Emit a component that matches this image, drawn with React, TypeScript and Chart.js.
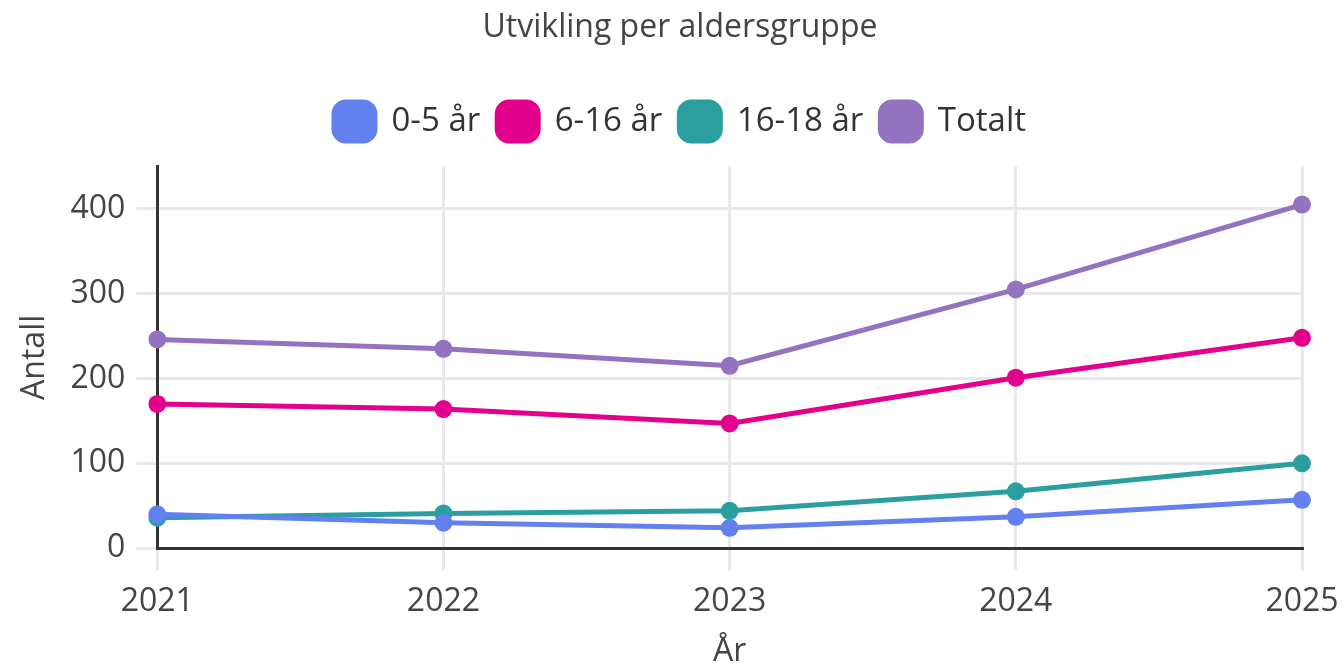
import React, { useEffect, useRef } from "react";
import { Chart, registerables } from "chart.js";

Chart.register(...registerables);

const years = ["2021", "2022", "2023", "2024", "2025"];
const age0to5 = [40, 30, 24, 37, 57];
const age6to16 = [170, 164, 147, 201, 248];
const age16to18 = [36, 41, 44, 67, 100];
const total = [246, 235, 215, 305, 405];

const seriesNames = ["0-5 år", "6-16 år", "16-18 år", "Totalt"];
const seriesColors = ["#6380EF", "#E3008C", "#2B9E9F", "#9373C0"];

const FONT = "'Open Sans', 'Noto Sans', sans-serif";
const TEXT = "#444444";

const legendSpacing = {
  id: "legendSpacing",
  beforeInit(chart: any) {
    const legend = chart.legend;
    if (!legend) return;
    const origFit = legend.fit;
    legend.fit = function () {
      origFit.call(this);
      this.height += 15.5;
    };
  },
};

export default function App() {
  const ref = useRef<HTMLCanvasElement | null>(null);

  useEffect(() => {
    document.body.style.margin = "0";
    const ctx = ref.current;
    if (!ctx) return;
    const values = [age0to5, age6to16, age16to18, total];
    const chart = new Chart(ctx, {
      type: "line",
      data: {
        labels: years,
        datasets: values.map((v, i) => ({
          label: seriesNames[i],
          data: v,
          borderColor: seriesColors[i],
          backgroundColor: seriesColors[i],
          pointBackgroundColor: seriesColors[i],
          pointBorderColor: seriesColors[i],
          borderWidth: 5,
          pointRadius: 9,
          pointBorderWidth: 0,
          tension: 0,
        })),
      },
      plugins: [legendSpacing],
      options: {
        animation: false,
        responsive: false,
        maintainAspectRatio: false,
        layout: { padding: { left: 16, right: 0, top: 4, bottom: -7 } },
        plugins: {
          title: {
            display: true,
            text: "Utvikling per aldersgruppe",
            color: TEXT,
            font: { family: FONT, size: 32, weight: "normal" },
            padding: { top: 5, bottom: 37.5 },
          },
          legend: {
            position: "top",
            labels: {
              color: "#333",
              font: { family: FONT, size: 33 },
              boxWidth: 41,
              boxHeight: 39,
              useBorderRadius: true,
              borderRadius: 12,
              padding: 17,
            },
          },
          tooltip: { enabled: false },
        },
        scales: {
          x: {
            grid: { color: "#e8e8ec", lineWidth: 3, tickLength: 22 },
            border: { color: "#333", width: 3 },
            ticks: { color: TEXT, font: { family: FONT, size: 32 }, padding: 12 },
            afterFit: (scale: any) => {
              scale.paddingRight = 42;
            },
            title: {
              display: true,
              text: "År",
              color: TEXT,
              font: { family: FONT, size: 32 },
              padding: { top: 0, bottom: 0 },
            },
          },
          y: {
            beginAtZero: true,
            grid: { color: "#e8e8ec", lineWidth: 3, tickLength: 21 },
            border: { color: "#333", width: 3 },
            ticks: {
              color: TEXT,
              font: { family: FONT, size: 32 },
              padding: 11,
              callback: (v: any) => (Number(v) % 100 === 0 ? String(v) : null),
            },
            title: {
              display: true,
              text: "Antall",
              color: TEXT,
              font: { family: FONT, size: 32 },
              padding: { top: 0, bottom: 5 },
            },
          },
        },
      },
    });
    return () => chart.destroy();
  }, []);

  return (
    <div style={{ position: "absolute", left: 0, top: 0, width: 1344, height: 664 }}>
      <canvas ref={ref} width={1344} height={664} style={{ width: 1344, height: 664 }} />
    </div>
  );
}
